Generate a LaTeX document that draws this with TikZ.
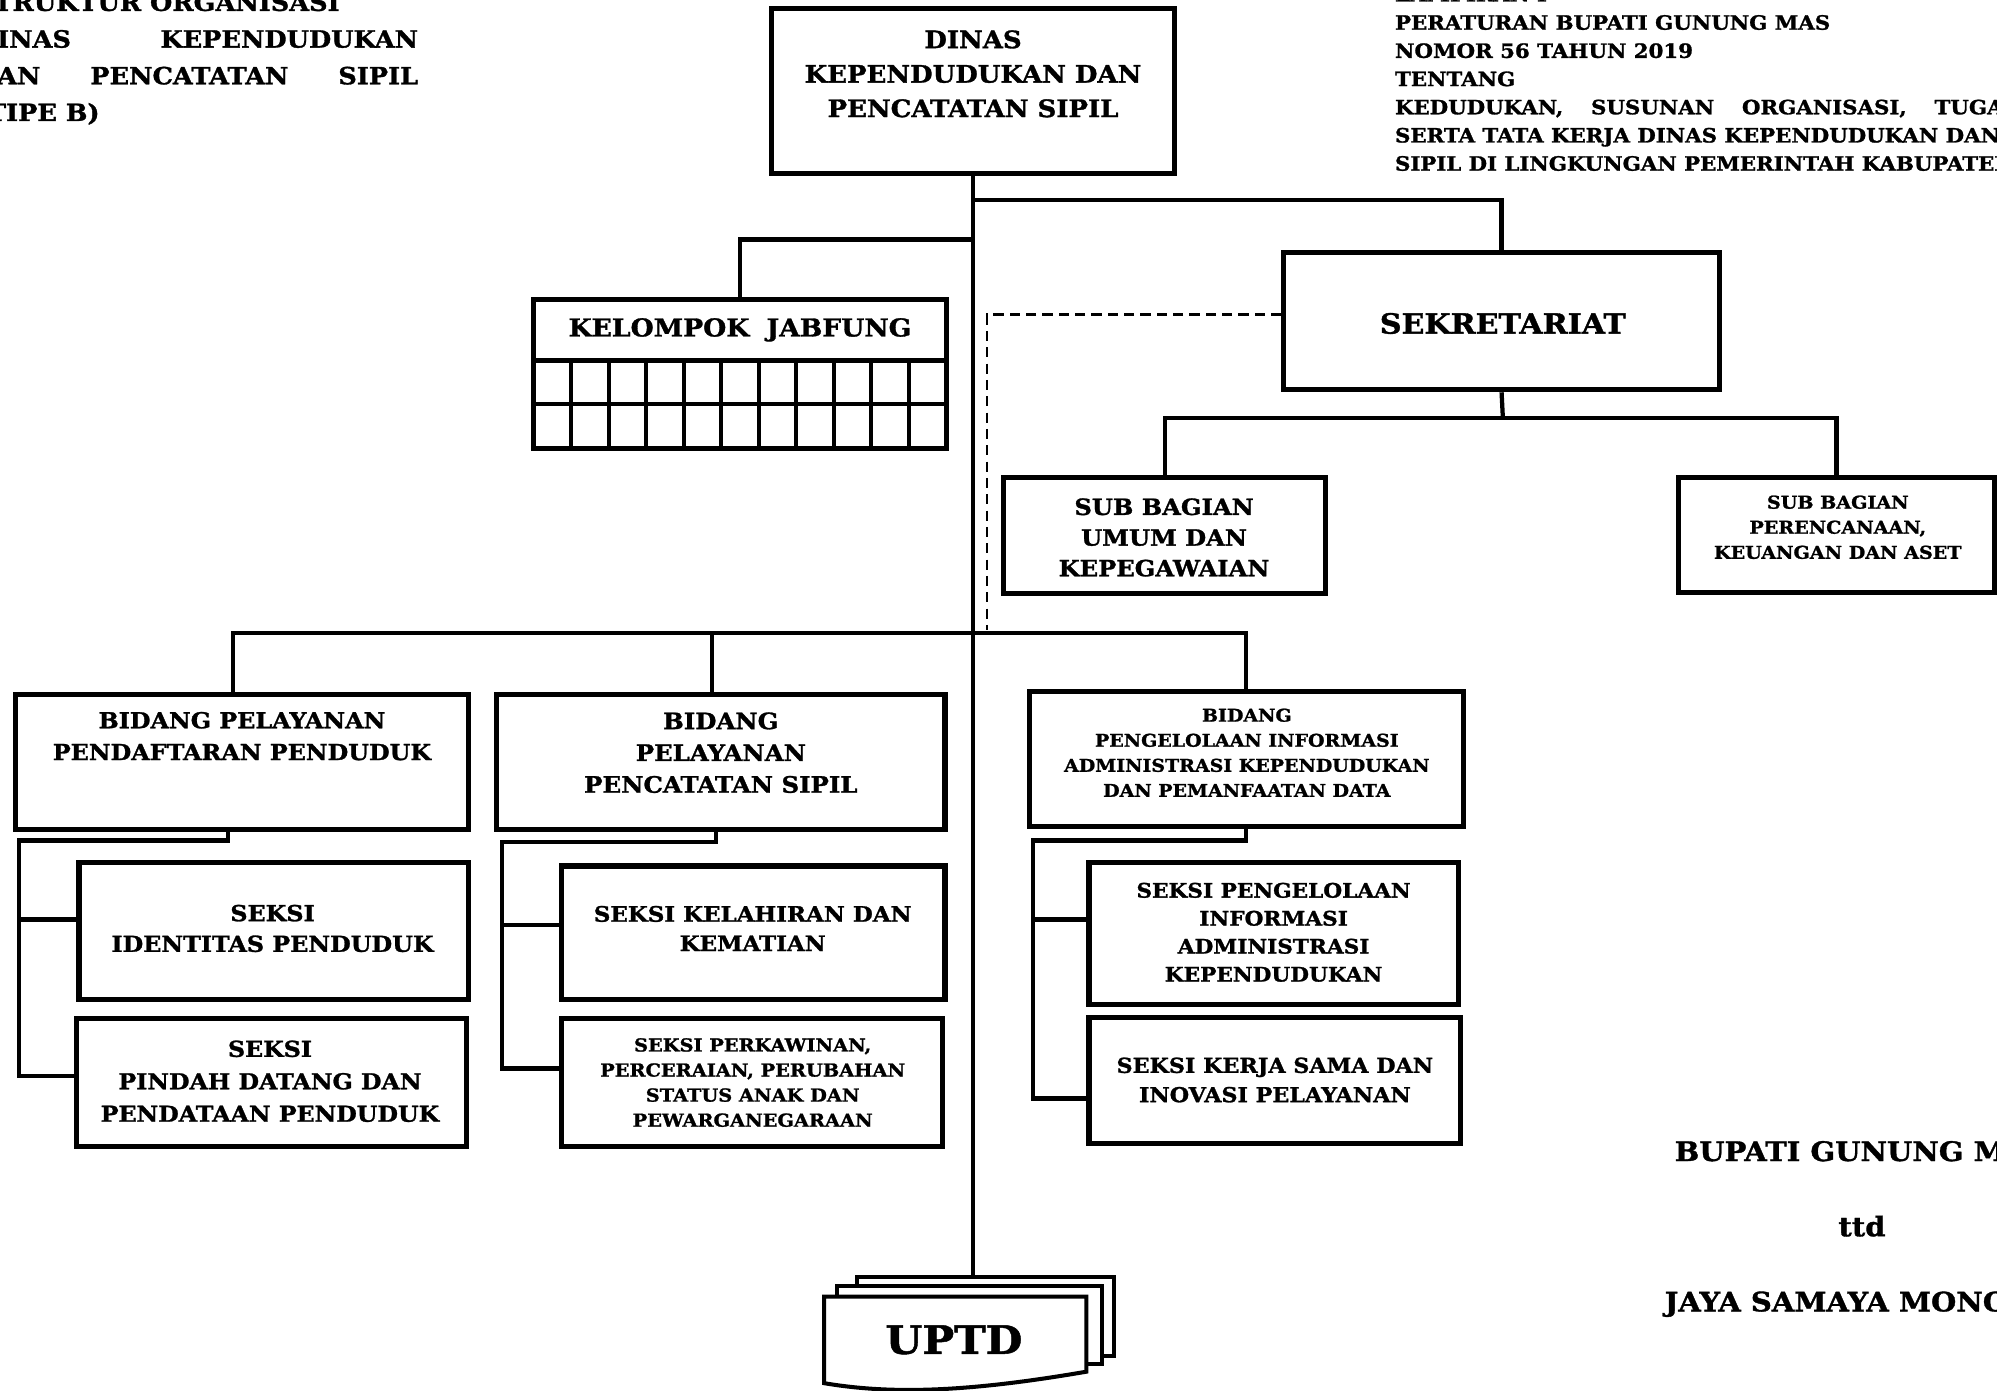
\documentclass[tikz,border=0pt]{standalone}
\usepackage{fontspec}
\setmainfont[FakeStretch=1.08, BoldFeatures={FakeBold=1.3}]{DejaVu Serif}
\usetikzlibrary{fit}
\tikzstyle{unit_box}=[rectangle,
                      draw=black,
                      line width=2.3pt,
                      inner sep=0pt,
                      fill=white]
\tikzstyle{sheet}=[draw=black, line width=1.8pt, fill=white, inner sep=0pt]
\tikzstyle{link}=[line width=1.9pt]
\tikzstyle{dash_link}=[line width=1.1pt, dash pattern=on 4.5pt off 2.8pt]
\tikzstyle{grid_line}=[line width=1.9pt]
\tikzstyle{unit_text}=[align=center, inner sep=0pt,
                       font=\bfseries\fontsize{9.85}{14.2}\selectfont]
\tikzstyle{small_text}=[align=center, inner sep=0pt,
                        font=\bfseries\fontsize{7.9}{11.2}\selectfont]
\tikzstyle{head_text}=[align=left, inner sep=0pt, anchor=base west]

\begin{document}
\begin{tikzpicture}[x=0.02cm, y=-0.02cm]
  \useasboundingbox (0,0) rectangle (1568,1092);
  \clip (0,0) rectangle (1568,1092);
  \fill[white] (0,0) rectangle (1568,1092);

  % headings
  \node at (-20, 95) (title) [head_text, font=\bfseries\fontsize{10.6}{16.4}\selectfont]
    {STRUKTUR ORGANISASI\\\makebox[6.96cm][s]{DINAS KEPENDUDUKAN}\\
     \makebox[6.96cm][s]{DAN PENCATATAN SIPIL}\\(TIPE B)};
  \node at (1095, 134) (lamp) [head_text, font=\bfseries\fontsize{8.8}{12.6}\selectfont]
    {LAMPIRAN I\\PERATURAN BUPATI GUNUNG MAS\\NOMOR 56 TAHUN 2019\\TENTANG\\
     \makebox[9.8cm][s]{KEDUDUKAN, SUSUNAN ORGANISASI, TUGAS}\\
     SERTA TATA KERJA DINAS KEPENDUDUKAN DAN\\
     SIPIL DI LINGKUNGAN PEMERINTAH KABUPATEN};

  % boxes
  \node (D) [unit_box, fit={(606,7) (922,136)}] {};
  \node (J) [unit_box, fit={(419,235) (743,352)}] {};
  \node (SK) [unit_box, fit={(1008,198) (1350,306)}] {};
  \node (SK1) [unit_box, fit={(788,375) (1041,466)}] {};
  \node (SK2) [unit_box, fit={(1318,375) (1566,465)}] {};
  \node (B1) [unit_box, fit={(12,545) (368,651)}] {};
  \node (B2) [unit_box, fit={(390,545) (742,651)}] {};
  \node (B3) [unit_box, fit={(808,543) (1149,649)}] {};
  \node (S11) [unit_box, fit={(62,677) (368,785)}] {};
  \node (S12) [unit_box, fit={(60,800) (366,900)}] {};
  \node (S21) [unit_box, fit={(441,680) (742,785)}] {};
  \node (S22) [unit_box, fit={(441,800) (740,900)}] {};
  \node (S31) [unit_box, fit={(855,677) (1145,789)}] {};
  \node (S32) [unit_box, fit={(855,799) (1147,898)}] {};
  \node (U3) [sheet, fit={(673,1003) (875,1065)}] {};
  \node (U2) [sheet, fit={(657,1010) (865,1071)}] {};
  \draw[sheet] (647,1018) -- (853,1018) -- (853,1077)
    .. controls (760,1093) and (700,1095) .. (647,1086) -- cycle;

  % jabfung grid
  \draw[grid_line] (419,283) -- (743,283);
  \draw[grid_line] (419,317) -- (743,317);
  \foreach \c in {1,...,10} {
    \draw[grid_line] (419+29.45*\c, 283) -- (419+29.45*\c, 352);
  }

  % connectors
  \coordinate (T1) at (765,157);
  \coordinate (T2) at (765,188);
  \coordinate (T3) at (765,497);
  \coordinate (T4) at (1180,328);
  \coordinate (DL) at (775,495);
  \coordinate (C1) at (15,660);
  \coordinate (C2) at (394,661);
  \coordinate (C3) at (811,660);
  \draw[link] (D.south) -- (D.south |- U3.north);
  \draw[link] (T1) -| (SK.north);
  \draw[link] (T2) -| (J.north);
  \draw[link] (SK.south) -- (T4);
  \draw[link] (SK1.north) |- (T4) -| (SK2.north);
  \draw[dash_link] ([yshift=2.8pt]SK.west) -| (DL);
  \draw[link] ([xshift=-4pt]B1.north) |- (T3) -| (B3.north);
  \draw[link] ([xshift=-4pt]B2.north) -- ([xshift=-4pt]B2.north |- T3);
  \draw[link] ([xshift=-6.3pt]B1.south) |- (C1) |- ([yshift=2.8pt]S12.west);
  \draw[link] ([yshift=5.1pt]S11.west) -| (C1);
  \draw[link] ([xshift=-2.3pt]B2.south) |- (C2) |- ([yshift=6.3pt]S22.west);
  \draw[link] ([yshift=3.4pt]S21.west) -| (C2);
  \draw[link] (B3.south) |- (C3) |- ([yshift=-8pt]S32.west);
  \draw[link] ([yshift=6.3pt]S31.west) -| (C3);

  % texts
  \node at (764,58) (Dt) [unit_text, font=\bfseries\fontsize{10.75}{15.4}\selectfont]
    {DINAS\\KEPENDUDUKAN DAN\\PENCATATAN SIPIL};
  \node at (581,259) (Jt) [unit_text, font=\bfseries\fontsize{11}{14}\selectfont]
    {KELOMPOK\hspace{0.7em}JABFUNG};
  \node at (1180,254) (SKt) [unit_text, font=\bfseries\fontsize{12.45}{14}\selectfont]
    {SEKRETARIAT};
  \node at (914,422) (SK1t) [unit_text, font=\bfseries\fontsize{10}{13.7}\selectfont]
    {SUB BAGIAN\\UMUM DAN\\KEPEGAWAIAN};
  \node at (1443,414) (SK2t) [small_text]
    {SUB BAGIAN\\PERENCANAAN,\\KEUANGAN DAN ASET};
  \node at (190,578) (B1t) [unit_text]
    {BIDANG PELAYANAN\\PENDAFTARAN PENDUDUK};
  \node at (566,591) (B2t) [unit_text, font=\bfseries\fontsize{10.1}{14.2}\selectfont]
    {BIDANG\\PELAYANAN\\PENCATATAN SIPIL};
  \node at (979,591) (B3t) [small_text, font=\bfseries\fontsize{7.85}{11.2}\selectfont]
    {BIDANG\\PENGELOLAAN INFORMASI\\ADMINISTRASI KEPENDUDUKAN\\DAN PEMANFAATAN DATA};
  \node at (214,729) (S11t) [unit_text, font=\bfseries\fontsize{9.85}{13.7}\selectfont]
    {SEKSI\\IDENTITAS PENDUDUK};
  \node at (212,849) (S12t) [unit_text, font=\bfseries\fontsize{9.8}{14.5}\selectfont]
    {SEKSI\\PINDAH DATANG DAN\\PENDATAAN PENDUDUK};
  \node at (591,729) (S21t) [unit_text, font=\bfseries\fontsize{9.5}{13.1}\selectfont]
    {SEKSI KELAHIRAN DAN\\KEMATIAN};
  \node at (591,850) (S22t) [small_text, font=\bfseries\fontsize{8}{11.2}\selectfont]
    {SEKSI PERKAWINAN,\\PERCERAIAN, PERUBAHAN\\STATUS ANAK DAN\\PEWARGANEGARAAN};
  \node at (1000,732) (S31t) [unit_text, font=\bfseries\fontsize{8.95}{12.5}\selectfont]
    {SEKSI PENGELOLAAN\\INFORMASI\\ADMINISTRASI\\KEPENDUDUKAN};
  \node at (1001,848) (S32t) [unit_text, font=\bfseries\fontsize{9.2}{13.1}\selectfont]
    {SEKSI KERJA SAMA DAN\\INOVASI PELAYANAN};
  \node at (749,1052) (U) [unit_text, font=\bfseries\fontsize{17.5}{20}\selectfont] {UPTD};

  \node at (1462,965) (sign) [unit_text, font=\bfseries\fontsize{12}{33.6}\selectfont]
    {BUPATI GUNUNG MAS\\ttd\\JAYA SAMAYA MONONG};
\end{tikzpicture}
\end{document}
